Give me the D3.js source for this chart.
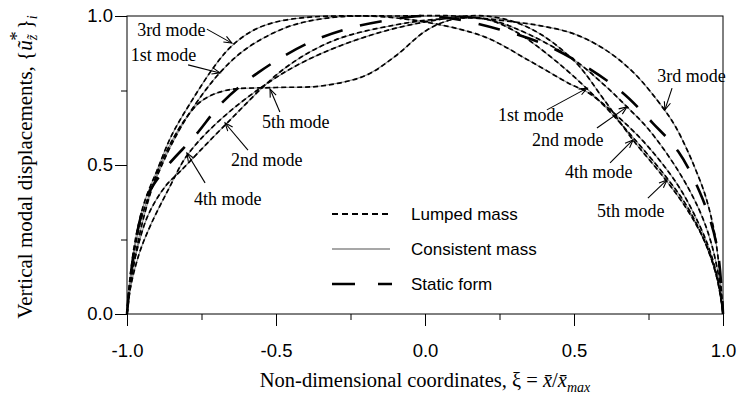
<!DOCTYPE html>
<html>
<head>
<meta charset="utf-8">
<script src="https://cdn.jsdelivr.net/npm/d3@7"></script>
<style>
  body { margin: 0; background: #fff; }
  svg { display: block; }
</style>
</head>
<body>
<script>
// curves, [xi, displacement]
var staticForm = [[-1,0],[-0.985,0.15],[-0.96,0.3],[-0.93,0.4],[-0.87,0.49],[-0.77,0.6],[-0.68,0.71],[-0.56,0.81],[-0.39,0.91],[-0.25,0.96],[-0.1,0.99],[0,1.0],
  [0.1,0.99],[0.25,0.955],[0.4,0.905],[0.53,0.836],[0.66,0.745],[0.765,0.64],[0.85,0.545],[0.93,0.39],[0.98,0.225],[1,0]];
var mode1 = [[-1,0],[-0.99,0.11],[-0.97,0.24],[-0.94,0.36],[-0.9,0.46],[-0.85,0.57],[-0.78,0.69],[-0.688,0.81],[-0.6,0.89],[-0.47,0.96],[-0.35,0.99],[-0.2,1.0],
  [0,0.98],[0.2,0.93],[0.35,0.85],[0.49,0.77],[0.544,0.745],[0.65,0.66],[0.75,0.56],[0.85,0.43],[0.92,0.3],[0.96,0.2],[0.99,0.08],[1,0]];
var mode2 = [[-1,0],[-0.99,0.1],[-0.97,0.2],[-0.93,0.33],[-0.87,0.43],[-0.82,0.48],[-0.67,0.635],[-0.47,0.825],[-0.3,0.92],[-0.1,0.97],[0.05,0.99],[0.2,0.99],
  [0.3,0.96],[0.49,0.86],[0.6,0.77],[0.678,0.695],[0.75,0.62],[0.85,0.48],[0.92,0.35],[0.96,0.24],[0.99,0.1],[1,0]];
var mode3 = [[-1,0],[-0.99,0.12],[-0.97,0.26],[-0.94,0.38],[-0.9,0.48],[-0.85,0.6],[-0.78,0.72],[-0.7,0.84],[-0.648,0.9],[-0.58,0.95],[-0.5,0.98],[-0.4,0.995],
  [-0.3,1.0],[-0.1,1.0],[0.1,1.0],[0.3,0.98],[0.4,0.965],[0.5,0.94],[0.6,0.89],[0.7,0.81],[0.8,0.69],[0.84,0.63],[0.88,0.55],[0.91,0.48],[0.94,0.4],[0.97,0.28],[0.99,0.13],[1,0]];
var mode4 = [[-1,0],[-0.99,0.08],[-0.96,0.2],[-0.92,0.3],[-0.86,0.42],[-0.8,0.53],[-0.7,0.64],[-0.55,0.76],[-0.4,0.85],[-0.2,0.93],[0,0.98],[0.2,1.0],
  [0.35,0.96],[0.5,0.85],[0.6,0.72],[0.698,0.584],[0.8,0.46],[0.88,0.35],[0.94,0.24],[0.98,0.12],[1,0]];
var mode5 = [[-1,0],[-0.98,0.15],[-0.95,0.3],[-0.9,0.47],[-0.85,0.58],[-0.8,0.66],[-0.75,0.715],[-0.67,0.75],[-0.5,0.76],[-0.35,0.765],[-0.2,0.8],
  [-0.1,0.865],[0.007,0.953],[0.1,0.99],[0.2,0.99],[0.3,0.95],[0.45,0.84],[0.6,0.7],[0.7,0.59],[0.812,0.456],[0.88,0.36],[0.94,0.24],[0.98,0.12],[1,0]];

var modes = [mode1, mode2, mode3, mode4, mode5];

var xTicks = [-1, -0.5, 0, 0.5, 1];
var xMinor = [-0.75, -0.25, 0.25, 0.75];
var yTicks = [0, 0.5, 1];
var yMinor = [0.25, 0.75];

// label text, label start [xi, u], arrow tail, arrow tip (all data units)
var labelText = ["3rd mode", "1st mode", "5th mode", "2nd mode", "4th mode",
                 "3rd mode", "1st mode", "2nd mode", "4th mode", "5th mode"];
var labelAt = [[-0.966,0.933],[-0.987,0.849],[-0.547,0.624],[-0.651,0.497],[-0.775,0.366],
               [0.779,0.779],[0.245,0.648],[0.359,0.564],[0.470,0.456],[0.577,0.326]];
var arrowFrom = [[-0.732,0.956],[-0.795,0.836],[-0.487,0.678],[-0.594,0.55],[-0.738,0.44],
                 [0.829,0.758],[0.409,0.685],[0.577,0.624],[0.621,0.507],[0.748,0.389]];
var arrowTo = [[-0.648,0.909],[-0.688,0.809],[-0.52,0.755],[-0.671,0.641],[-0.799,0.54],
               [0.805,0.685],[0.544,0.758],[0.678,0.695],[0.698,0.584],[0.812,0.45]];

var legendNames = ["Lumped mass", "Consistent mass", "Static form"];

var width = 740, height = 396;
var serif = "'Liberation Serif', 'Times New Roman', serif";
var sans = "'Liberation Sans', Arial, sans-serif";

var svg = d3.select("body").append("svg")
  .attr("width", width).attr("height", height);

var x = d3.scaleLinear().domain([-1, 1]).range([127, 723]);
var y = d3.scaleLinear().domain([0, 1]).range([314, 16]);

svg.append("defs").append("marker")
  .attr("id", "arr")
  .attr("viewBox", "-10 -5 12 10")
  .attr("refX", 0).attr("refY", 0)
  .attr("markerWidth", 12).attr("markerHeight", 10)
  .attr("markerUnits", "userSpaceOnUse")
  .attr("orient", "auto")
  .append("path")
  .attr("d", "M-8,-3.2L0,0L-8,3.2")
  .attr("fill", "none").attr("stroke", "#000").attr("stroke-width", 1.1);

// frame
svg.append("rect")
  .attr("x", x(-1)).attr("y", y(1))
  .attr("width", x(1) - x(-1)).attr("height", y(0) - y(1))
  .attr("fill", "none").attr("stroke", "#000").attr("stroke-width", 1);

var fmt = function (d) { return d.toFixed(1); };   // plain hyphen, like the original

var xAxis = svg.append("g").attr("transform", "translate(0," + y(0) + ")")
  .call(d3.axisBottom(x).tickValues(xTicks).tickSize(12).tickSizeOuter(0).tickPadding(18).tickFormat(fmt));
var xAxisMinor = svg.append("g").attr("transform", "translate(0," + y(0) + ")")
  .call(d3.axisBottom(x).tickValues(xMinor).tickSize(6).tickSizeOuter(0).tickFormat(""));
var yAxis = svg.append("g").attr("transform", "translate(" + x(-1) + ",0)")
  .call(d3.axisLeft(y).tickValues(yTicks).tickSize(12).tickSizeOuter(0).tickPadding(2).tickFormat(fmt));
var yAxisMinor = svg.append("g").attr("transform", "translate(" + x(-1) + ",0)")
  .call(d3.axisLeft(y).tickValues(yMinor).tickSize(6).tickSizeOuter(0).tickFormat(""));

[xAxis, xAxisMinor, yAxis, yAxisMinor].forEach(function (g) {
  g.select(".domain").remove();
  g.selectAll("line").attr("stroke", "#000").attr("stroke-width", 1);
  g.selectAll("text").attr("fill", "#000").style("font-family", sans).style("font-size", "18.5px");
});
xAxis.selectAll("text").attr("dy", "0.71em");

var line = d3.line()
  .x(function (d) { return x(d[0]); })
  .y(function (d) { return y(d[1]); })
  .curve(d3.curveCatmullRom.alpha(0.5));

var curves = svg.append("g");

// consistent mass: thin grey solid under the lumped dashes
modes.forEach(function (m) {
  curves.append("path").datum(m)
    .attr("d", line)
    .attr("fill", "none").attr("stroke", "#8a8a8a").attr("stroke-width", 1.1);
});
modes.forEach(function (m) {
  curves.append("path").datum(m)
    .attr("d", line)
    .attr("fill", "none").attr("stroke", "#000").attr("stroke-width", 1.7)
    .attr("stroke-dasharray", "5,3");
});
curves.append("path").datum(staticForm)
  .attr("d", line)
  .attr("fill", "none").attr("stroke", "#000").attr("stroke-width", 2.6)
  .attr("stroke-dasharray", "22,18");

// mode labels and arrows
var notes = svg.append("g");
labelText.forEach(function (t, i) {
  notes.append("line")
    .attr("x1", x(arrowFrom[i][0])).attr("y1", y(arrowFrom[i][1]))
    .attr("x2", x(arrowTo[i][0])).attr("y2", y(arrowTo[i][1]))
    .attr("stroke", "#000").attr("stroke-width", 1.1)
    .attr("marker-end", "url(#arr)");
  notes.append("text")
    .attr("x", x(labelAt[i][0])).attr("y", y(labelAt[i][1]))
    .style("font-family", serif).style("font-size", "18px")
    .attr("fill", "#000")
    .text(t);
});

// legend
var legend = svg.append("g").attr("transform", "translate(332,0)");
var legY = [214, 249, 284];
legend.append("line").attr("x1", 0).attr("x2", 58).attr("y1", legY[0]).attr("y2", legY[0])
  .attr("stroke", "#000").attr("stroke-width", 2).attr("stroke-dasharray", "6,4");
legend.append("line").attr("x1", 0).attr("x2", 58).attr("y1", legY[1]).attr("y2", legY[1])
  .attr("stroke", "#8a8a8a").attr("stroke-width", 1.5);
legend.append("line").attr("x1", 0).attr("x2", 60).attr("y1", legY[2]).attr("y2", legY[2])
  .attr("stroke", "#000").attr("stroke-width", 2.6).attr("stroke-dasharray", "23,23");
legendNames.forEach(function (n, i) {
  legend.append("text")
    .attr("x", 79).attr("y", legY[i]).attr("dy", "0.36em")
    .style("font-family", sans).style("font-size", "17px")
    .attr("fill", "#000")
    .text(n);
});

// axis titles
var xt = svg.append("text")
  .attr("x", (x(-1) + x(1)) / 2).attr("y", 387)
  .attr("text-anchor", "middle")
  .style("font-family", serif).style("font-size", "20.5px")
  .attr("fill", "#000");
xt.append("tspan").text("Non-dimensional coordinates, ξ = ");
xt.append("tspan").style("font-style", "italic").text("x\u0304");
xt.append("tspan").text("/");
xt.append("tspan").style("font-style", "italic").text("x\u0304");
xt.append("tspan").style("font-style", "italic").style("font-size", "14px").attr("dy", 5).text("max");

var yt = svg.append("text")
  .attr("transform", "translate(32," + (y(0.5) + 2) + ") rotate(-90)")
  .attr("text-anchor", "middle")
  .style("font-family", serif).style("font-size", "21px")
  .attr("fill", "#000");
yt.append("tspan").text("Vertical modal displacements, {");
yt.append("tspan").style("font-style", "italic").text("u\u0303");
yt.append("tspan").style("font-style", "italic").style("font-size", "14px").attr("dy", 5).text("z\u0303");
yt.append("tspan").style("font-size", "19px").attr("dy", -14).attr("dx", -6).text("*");
yt.append("tspan").attr("dy", 9).attr("dx", 2).text("}");
yt.append("tspan").style("font-style", "italic").style("font-size", "14px").attr("dy", 5).text("i");
</script>
</body>
</html>
